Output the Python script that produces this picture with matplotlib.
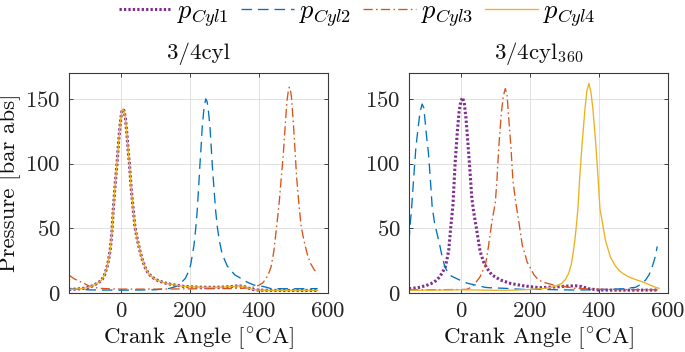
import matplotlib
matplotlib.use("Agg")
import matplotlib.pyplot as plt

plt.rcParams['font.family'] = ['cmr10', 'DejaVu Serif']
plt.rcParams['mathtext.fontset'] = 'cm'
plt.rcParams['axes.formatter.use_mathtext'] = True
plt.rcParams['axes.unicode_minus'] = False

# ---------------- data: panel "3/4cyl" ----------------
L1_x = [-150, -130, -110, -95, -85, -75, -65, -55, -47, -40, -35, -30, -26, -22, -16, -11, -6, -2, 2, 5, 9, 13, 18, 22, 25, 30, 35, 41, 48, 55, 62, 70, 80, 90, 100, 115, 130, 145, 160, 180, 200, 230, 260, 290, 320, 340, 355, 368, 380, 400, 450, 500, 570]
L1_y = [2.8, 3.0, 3.5, 4.3, 5.2, 6.5, 8, 10, 14, 20, 26, 35, 46, 64, 85, 100, 118, 130, 139, 142, 141, 136, 122, 108, 100, 81, 67, 51, 41, 33, 26, 20, 15, 12.5, 10.5, 8.9, 7.6, 6.7, 6, 5.2, 4.8, 4.5, 4.4, 4.5, 5, 5.5, 5.2, 4, 2.8, 2.2, 2.0, 2.0, 2.0]

L2_x = [-150, -120, -90, -50, 0, 50, 100, 140, 160, 175, 187, 195, 202, 207, 212, 217, 221, 225, 229, 233, 236, 241, 246, 250, 254, 258, 262, 265, 270, 275, 280, 285, 292, 299, 308, 318, 330, 348, 365, 386, 415, 435, 470, 520, 570]
L2_y = [3.3, 2.8, 2.4, 2.3, 2.2, 2.3, 2.5, 3.5, 5, 8, 11.3, 16, 21.5, 29, 37, 50, 62.6, 80, 98.6, 115, 129, 143, 150, 148, 140, 129, 112, 98.6, 80, 62.6, 50, 41, 32, 26.7, 21, 17.7, 14, 11.3, 8.5, 6.1, 4.9, 3.4, 3.3, 3.3, 3.4]

L3_x = [-150, -135, -120, -110, -100, -90, -80, -60, -30, 0, 50, 100, 150, 200, 250, 300, 350, 380, 400, 412, 425, 435, 443, 452, 459, 465, 470, 475, 481, 485, 488, 491, 494, 500, 505, 509, 515, 522, 530, 540, 549, 560, 570]
L3_y = [13.8, 11, 9, 8, 6.5, 5.2, 4.4, 3.6, 3.2, 3.0, 3.0, 3.0, 3.1, 3.2, 3.3, 3.4, 3.6, 4.2, 6, 8, 13, 20, 32, 53, 71, 90, 105, 125, 148, 156, 159, 157, 152, 130, 108, 90, 71, 52, 41, 30, 23, 18, 15]

L4_x = [-150, -130, -110, -95, -85, -75, -65, -55, -47, -40, -35, -30, -26, -22, -16, -11, -6, -2, 2, 5, 9, 13, 18, 22, 25, 30, 35, 41, 48, 55, 62, 70, 80, 90, 100, 115, 130, 145, 160, 180, 200, 230, 260, 290, 320, 340, 355, 368, 380, 400, 450, 500, 570]
L4_y = [2.8, 3.0, 3.5, 4.3, 5.2, 6.5, 8, 10, 14, 20, 26, 35, 46, 64, 85, 100, 118, 130, 139, 142, 141, 136, 122, 108, 100, 81, 67, 51, 41, 33, 26, 20, 15, 12.5, 10.5, 8.9, 7.6, 6.7, 6, 5.2, 4.8, 4.5, 4.4, 4.5, 5, 5.5, 5.2, 4, 2.8, 2.2, 2.0, 2.0, 2.0]

# ---------------- data: panel "3/4cyl_360" ----------------
R1_x = [-150, -135, -119, -100, -85, -72, -61, -53, -45, -40, -35, -29, -23, -16.5, -10, -5, 0, 5, 10, 15, 20, 25, 32, 37, 44, 50, 56, 66, 76, 90, 115, 144, 178, 226, 270, 300, 331, 350, 370, 399, 450, 500, 570]
R1_y = [3.3, 3.8, 4.4, 5.8, 7.4, 9.5, 12.5, 16, 20, 26, 33, 51, 67, 100, 125, 140, 148, 151, 147, 135, 118, 100, 73, 63, 52, 42, 32, 24, 19, 14, 10, 7.4, 5.7, 4.1, 4.6, 5.2, 5.6, 5, 3.3, 2.3, 2.2, 2.2, 2.3]

R2_x = [-150, -146, -142.6, -138, -134, -130, -126, -123, -118, -112, -107, -102, -98, -94, -89, -83, -76, -68, -61, -54, -46, -35, -27, -15, -3, 10, 21, 42, 70, 81, 129, 178, 234, 280, 331, 380, 428, 470, 506, 520, 535, 545, 554, 562, 569]
R2_y = [40, 55, 65, 83, 98, 112.7, 122, 129, 140, 146, 143, 129, 118, 109, 91, 67, 54, 45, 37, 28, 20, 15, 13, 11.5, 10, 8.5, 7.4, 6.2, 4.4, 4.1, 3.6, 2.8, 2.8, 2.5, 2.3, 2.5, 2.8, 3.3, 4.4, 6.5, 10, 14, 20, 27, 36]

R3_x = [-150, -100, -50, 0, 17.5, 28, 37, 46, 56, 65, 71, 75, 80.6, 90, 100, 104.6, 110, 117, 123, 128.8, 134, 138, 145, 151, 158, 168, 178, 186, 192, 200, 212, 222, 236, 254, 270, 292, 331, 380, 450, 570]
R3_y = [2.5, 2.5, 2.6, 2.7, 2.8, 4.2, 6.2, 9, 12.6, 18, 22, 27, 37, 55, 70, 87, 113, 138, 152, 158, 153, 138, 113, 87, 72, 55, 37, 30, 24, 20, 14, 11, 8.5, 7.2, 6.2, 5.4, 3.6, 3.0, 2.6, 2.5]

R4_x = [-150, -100, -50, 0, 50, 100, 150, 205, 240, 263, 280, 292.5, 303, 312, 320, 326.5, 332, 336, 339, 344.8, 351.7, 359.5, 365, 371, 377, 382.6, 390.4, 397, 403, 409, 418.6, 433, 445, 457, 470, 486, 505, 525, 545, 564, 574]
R4_y = [2.0, 2.2, 2.3, 2.5, 2.3, 2.1, 2.2, 2.8, 3.5, 4.4, 5.8, 7.4, 10.5, 15, 22, 33, 45, 56, 65, 91, 116.6, 142, 156, 162, 155, 142, 116.6, 91, 65, 56, 41, 28, 22, 17.7, 15, 12.5, 10.5, 8.7, 6.5, 4.4, 3.6]

titles = ['3/4cyl', r'3/4cyl$_{360}$']
labels = [r'$p_{Cyl1}$', r'$p_{Cyl2}$', r'$p_{Cyl3}$', r'$p_{Cyl4}$']
xticks = [0, 200, 400, 600]
yticks = [0, 50, 100, 150]

colors = ['#7E2F8E', '#0072BD', '#D95319', '#EDB120']
styles = [dict(lw=2.2, linestyle=(0, (0.75, 0.7)), dash_capstyle='butt'),
          dict(lw=0.95, linestyle=(0, (8, 4.5))),
          dict(lw=0.95, linestyle=(0, (7, 2.5, 1.2, 2.5))),
          dict(lw=0.95, linestyle='-')]

FS = 16.5
fig = plt.figure(figsize=(6.85, 3.52), dpi=100)
axL = fig.add_axes([69 / 685, (352 - 293) / 352, 259 / 685, 220 / 352])
axR = fig.add_axes([409 / 685, (352 - 293) / 352, 259 / 685, 220 / 352])

panels = [(axL, [(L1_x, L1_y), (L2_x, L2_y), (L3_x, L3_y), (L4_x, L4_y)]),
          (axR, [(R1_x, R1_y), (R2_x, R2_y), (R3_x, R3_y), (R4_x, R4_y)])]

handles = []
for k, (ax, series) in enumerate(panels):
    for i, (xs, ys) in enumerate(series):
        h, = ax.plot(xs, ys, color=colors[i], label=labels[i], **styles[i])
        if k == 0:
            handles.append(h)
    ax.set_xlim(-150, 600)
    ax.set_ylim(0, 170)
    ax.set_xticks(xticks)
    ax.set_yticks(yticks)
    ax.grid(True, color='#dcdcdc', lw=0.6)
    ax.set_axisbelow(True)
    ax.tick_params(direction='in', top=True, right=True, length=3, width=0.6,
                   labelsize=FS, colors='#262626', pad=6)
    for sp in ax.spines.values():
        sp.set_color('#3a3a3a')
        sp.set_linewidth(0.8)
    ax.set_title(titles[k], fontsize=FS, pad=10, color='#111111')
    ax.set_xlabel(r'Crank Angle [$^{\circ}$CA]', fontsize=FS, labelpad=3, color='#111111')

axL.set_ylabel('Pressure [bar abs]', fontsize=FS, labelpad=3, color='#111111')

fig.legend(handles=handles, labels=labels, loc='center', bbox_to_anchor=(0.522, 1 - 14 / 352),
           ncol=4, frameon=False, fontsize=19, handlelength=2.0, handletextpad=0.2,
           columnspacing=0.45, borderaxespad=0, borderpad=0)

fig.savefig('out.png', dpi=100)
